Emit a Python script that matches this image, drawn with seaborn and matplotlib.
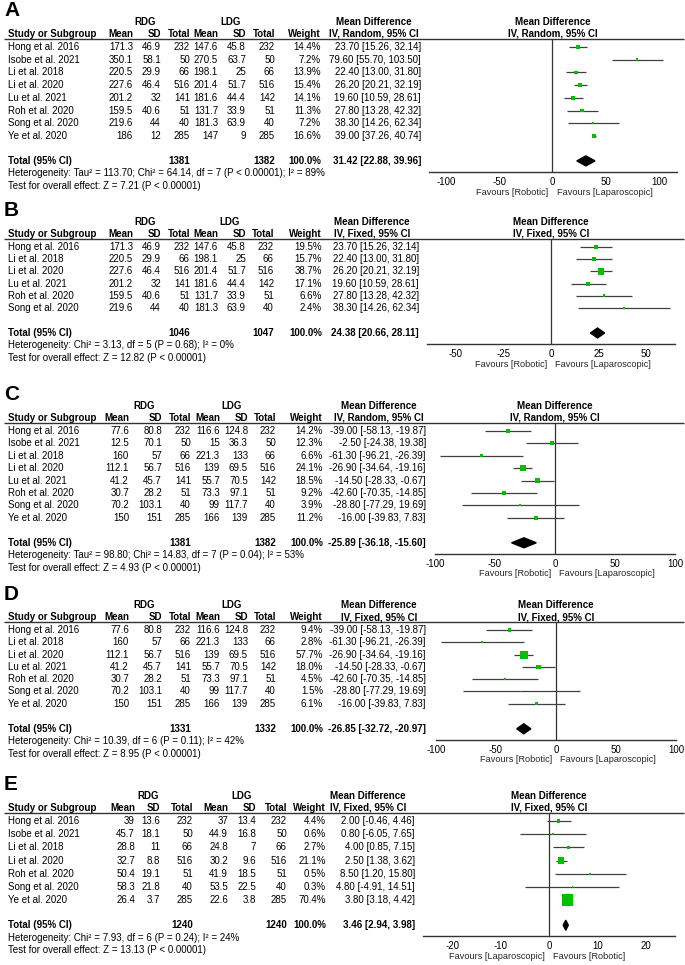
import matplotlib.pyplot as plt
import numpy as np
import pandas as pd
import seaborn as sns

# ---- data -------------------------------------------------------------
# operative time (panels A and B)
op_studies = ["Hong et al. 2016", "Isobe et al. 2021", "Li et al. 2018", "Li et al. 2020",
              "Lu et al. 2021", "Roh et al. 2020", "Song et al. 2020", "Ye et al. 2020"]
op_rdg_mean = [171.3, 350.1, 220.5, 227.6, 201.2, 159.5, 219.6, 186]
op_rdg_sd = [46.9, 58.1, 29.9, 46.4, 32, 40.6, 44, 12]
op_rdg_n = [232, 50, 66, 516, 141, 51, 40, 285]
op_ldg_mean = [147.6, 270.5, 198.1, 201.4, 181.6, 131.7, 181.3, 147]
op_ldg_sd = [45.8, 63.7, 25, 51.7, 44.4, 33.9, 63.9, 9]
op_ldg_n = [232, 50, 66, 516, 142, 51, 40, 285]
op_md = [23.70, 79.60, 22.40, 26.20, 19.60, 27.80, 38.30, 39.00]
op_lo = [15.26, 55.70, 13.00, 20.21, 10.59, 13.28, 14.26, 37.26]
op_hi = [32.14, 103.50, 31.80, 32.19, 28.61, 42.32, 62.34, 40.74]

a_studies = op_studies
a_weight = [14.4, 7.2, 13.9, 15.4, 14.1, 11.3, 7.2, 16.6]
a_total_n = [1381, 1382]
a_total_md = [31.42, 22.88, 39.96]
a_het = "Heterogeneity: Tau² = 113.70; Chi² = 64.14, df = 7 (P < 0.00001); I² = 89%"
a_test = "Test for overall effect: Z = 7.21 (P < 0.00001)"

b_studies = ["Hong et al. 2016", "Li et al. 2018", "Li et al. 2020", "Lu et al. 2021",
             "Roh et al. 2020", "Song et al. 2020"]
b_weight = [19.5, 15.7, 38.7, 17.1, 6.6, 2.4]
b_total_n = [1046, 1047]
b_total_md = [24.38, 20.66, 28.11]
b_het = "Heterogeneity: Chi² = 3.13, df = 5 (P = 0.68); I² = 0%"
b_test = "Test for overall effect: Z = 12.82 (P < 0.00001)"

# blood loss (panels C and D)
bl_studies = op_studies
bl_rdg_mean = [77.6, 12.5, 160, 112.1, 41.2, 30.7, 70.2, 150]
bl_rdg_sd = [80.8, 70.1, 57, 56.7, 45.7, 28.2, 103.1, 151]
bl_rdg_n = [232, 50, 66, 516, 141, 51, 40, 285]
bl_ldg_mean = [116.6, 15, 221.3, 139, 55.7, 73.3, 99, 166]
bl_ldg_sd = [124.8, 36.3, 133, 69.5, 70.5, 97.1, 117.7, 139]
bl_ldg_n = [232, 50, 66, 516, 142, 51, 40, 285]
bl_md = [-39.00, -2.50, -61.30, -26.90, -14.50, -42.60, -28.80, -16.00]
bl_lo = [-58.13, -24.38, -96.21, -34.64, -28.33, -70.35, -77.29, -39.83]
bl_hi = [-19.87, 19.38, -26.39, -19.16, -0.67, -14.85, 19.69, 7.83]

c_studies = bl_studies
c_weight = [14.2, 12.3, 6.6, 24.1, 18.5, 9.2, 3.9, 11.2]
c_total_n = [1381, 1382]
c_total_md = [-25.89, -36.18, -15.60]
c_het = "Heterogeneity: Tau² = 98.80; Chi² = 14.83, df = 7 (P = 0.04); I² = 53%"
c_test = "Test for overall effect: Z = 4.93 (P < 0.00001)"

d_studies = ["Hong et al. 2016", "Li et al. 2018", "Li et al. 2020", "Lu et al. 2021",
             "Roh et al. 2020", "Song et al. 2020", "Ye et al. 2020"]
d_weight = [9.4, 2.8, 57.7, 18.0, 4.5, 1.5, 6.1]
d_total_n = [1331, 1332]
d_total_md = [-26.85, -32.72, -20.97]
d_het = "Heterogeneity: Chi² = 10.39, df = 6 (P = 0.11); I² = 42%"
d_test = "Test for overall effect: Z = 8.95 (P < 0.00001)"

# retrieved lymph nodes (panel E)
e_studies = ["Hong et al. 2016", "Isobe et al. 2021", "Li et al. 2018", "Li et al. 2020",
             "Roh et al. 2020", "Song et al. 2020", "Ye et al. 2020"]
e_rdg_mean = [39, 45.7, 28.8, 32.7, 50.4, 58.3, 26.4]
e_rdg_sd = [13.6, 18.1, 11, 8.8, 19.1, 21.8, 3.7]
e_rdg_n = [232, 50, 66, 516, 51, 40, 285]
e_ldg_mean = [37, 44.9, 24.8, 30.2, 41.9, 53.5, 22.6]
e_ldg_sd = [13.4, 16.8, 7, 9.6, 18.5, 22.5, 3.8]
e_ldg_n = [232, 50, 66, 516, 51, 40, 285]
e_md = [2.00, 0.80, 4.00, 2.50, 8.50, 4.80, 3.80]
e_lo = [-0.46, -6.05, 0.85, 1.38, 1.20, -4.91, 3.18]
e_hi = [4.46, 7.65, 7.15, 3.62, 15.80, 14.51, 4.42]
e_weight = [4.4, 0.6, 2.7, 21.1, 0.5, 0.3, 70.4]
e_total_n = [1240, 1240]
e_total_md = [3.46, 2.94, 3.98]
e_het = "Heterogeneity: Chi² = 7.93, df = 6 (P = 0.24); I² = 24%"
e_test = "Test for overall effect: Z = 13.13 (P < 0.00001)"

fav_rob_lap = ["Favours [Robotic]", "Favours [Laparoscopic]"]
fav_lap_rob = ["Favours [Laparoscopic]", "Favours [Robotic]"]


def pick(values, names, subset):
    lookup = dict(zip(names, values))
    return [lookup[s] for s in subset]


# ---- drawing ----------------------------------------------------------
W, H = 685, 965
sns.set_theme(style="white")
plt.rcParams['font.family'] = ['Liberation Sans', 'DejaVu Sans']
plt.rcParams['axes.unicode_minus'] = False

fig = plt.figure(figsize=(W / 100, H / 100), dpi=100)
canvas = fig.add_axes([0, 0, 1, 1])
canvas.set_xlim(0, W)
canvas.set_ylim(H, 0)
canvas.axis('off')

FS = 7
GREEN = '#00c000'


def txt(x, y, s, ha='right', bold=False, size=FS):
    canvas.text(x, y, s, ha=ha, va='center', fontsize=size,
                fontweight='bold' if bold else 'normal', color='black')


def draw_panel(letter, studies, cols, weight, md, lo, hi, total_n, total_md,
               het, test, method, favours, lay):
    L, p = lay['line'], lay['pitch']
    cx = lay['cols']
    md_r = lay['md_r']
    row_y = L + 8 + p * np.arange(len(studies))
    tot_y = row_y[-1] + 25
    axis_y = tot_y + 11

    # panel letter + group headers
    txt(4, L - 28, letter, ha='left', bold=True, size=15)
    txt((cx[0] + cx[2]) / 2 - 16, L - 17, "RDG", ha='center', bold=True)
    txt((cx[3] + cx[5]) / 2 - 16, L - 17, "LDG", ha='center', bold=True)
    txt(md_r - 47, L - 17, "Mean Difference", ha='center', bold=True)
    txt(8, L - 5, "Study or Subgroup", ha='left', bold=True)
    for x, h in zip(cx, ["Mean", "SD", "Total", "Mean", "SD", "Total", "Weight"]):
        txt(x, L - 5, h, bold=True)
    txt(md_r - 47, L - 5, method, ha='center', bold=True)
    canvas.hlines(L, 4, 684, color='#333333', lw=1.0)

    # study rows
    for i, s in enumerate(studies):
        y = row_y[i]
        txt(8, y, s, ha='left')
        for x, col in zip(cx[:6], cols):
            txt(x, y, f"{col[i]:g}")
        txt(cx[6], y, f"{weight[i]:.1f}%")
        txt(md_r, y, f"{md[i]:.2f} [{lo[i]:.2f}, {hi[i]:.2f}]")

    # totals
    txt(8, tot_y, "Total (95% CI)", ha='left', bold=True)
    txt(cx[2], tot_y, f"{total_n[0]}", bold=True)
    txt(cx[5], tot_y, f"{total_n[1]}", bold=True)
    txt(cx[6], tot_y, "100.0%", bold=True)
    txt(md_r, tot_y, f"{total_md[0]:.2f} [{total_md[1]:.2f}, {total_md[2]:.2f}]", bold=True)
    txt(8, tot_y + 12.5, het, ha='left')
    txt(8, tot_y + 25, test, ha='left')

    # forest plot
    x0, x1 = lay['plot_px']
    ax = fig.add_axes([x0 / W, 1 - axis_y / H, (x1 - x0) / W, (axis_y - L) / H])
    ax.patch.set_alpha(0)
    ax.axvline(0, color='#333333', lw=0.9, zorder=1)
    ax.hlines(row_y, lo, hi, color='#404040', lw=0.9, zorder=2)
    df = pd.DataFrame({'md': md, 'y': row_y, 'w': weight})
    smin, smax = lay['sq_px']
    sns.scatterplot(data=df, x='md', y='y', size='w',
                    sizes=((smin * 0.72) ** 2, (smax * 0.72) ** 2),
                    marker='s', color=GREEN, edgecolor='none', linewidth=0,
                    legend=False, ax=ax, zorder=3)
    m, l, h = total_md
    ax.fill([l, m, h, m], [tot_y, tot_y - 5, tot_y, tot_y + 5], color='black', zorder=3)

    ax.set_xlim(lay['xlim'])
    ax.set_ylim(axis_y, L)
    ax.set_xlabel('')
    ax.set_ylabel('')
    ax.set_yticks([])
    ax.set_xticks(lay['ticks'])
    ax.set_xticklabels([f"{t:g}" for t in lay['ticks']])
    for side in ['top', 'left', 'right']:
        ax.spines[side].set_visible(False)
    ax.spines['bottom'].set_color('#333333')
    ax.spines['bottom'].set_linewidth(1.0)
    ax.tick_params(axis='x', direction='inout', length=5, width=1, pad=1,
                   labelsize=FS, colors='black')
    ax.tick_params(axis='x', color='#333333')

    ax.annotate(favours[0], xy=(0, 0), xycoords=('data', 'axes fraction'),
                xytext=(-3, -14.5), textcoords='offset points',
                ha='right', va='center', fontsize=6.6)
    ax.annotate(favours[1], xy=(0, 0), xycoords=('data', 'axes fraction'),
                xytext=(3, -14.5), textcoords='offset points',
                ha='left', va='center', fontsize=6.6)

    # forest headers
    xc = (x0 + x1) / 2
    txt(xc, L - 17, "Mean Difference", ha='center', bold=True)
    txt(xc, L - 5, method, ha='center', bold=True)


op_cols = [op_rdg_mean, op_rdg_sd, op_rdg_n, op_ldg_mean, op_ldg_sd, op_ldg_n]
bl_cols = [bl_rdg_mean, bl_rdg_sd, bl_rdg_n, bl_ldg_mean, bl_ldg_sd, bl_ldg_n]
e_cols = [e_rdg_mean, e_rdg_sd, e_rdg_n, e_ldg_mean, e_ldg_sd, e_ldg_n]

# A
draw_panel("A", a_studies, op_cols, a_weight, op_md, op_lo, op_hi,
           a_total_n, a_total_md, a_het, a_test, "IV, Random, 95% CI", fav_rob_lap,
           dict(line=39, pitch=12.7, cols=[133, 161, 190, 218, 246, 275, 321], md_r=421,
                plot_px=(429, 677), xlim=(-116, 117), ticks=[-100, -50, 0, 50, 100],
                sq_px=(2.5, 4.2)))

# B
b_cols = [pick(c, op_studies, b_studies) for c in op_cols]
draw_panel("B", b_studies, b_cols, b_weight,
           pick(op_md, op_studies, b_studies), pick(op_lo, op_studies, b_studies),
           pick(op_hi, op_studies, b_studies),
           b_total_n, b_total_md, b_het, b_test, "IV, Fixed, 95% CI", fav_rob_lap,
           dict(line=239, pitch=12.2, cols=[133, 161, 190, 218, 246, 274, 322], md_r=419,
                plot_px=(427, 675), xlim=(-65, 65), ticks=[-50, -25, 0, 25, 50],
                sq_px=(1.8, 6.2)))

# C
draw_panel("C", c_studies, bl_cols, c_weight, bl_md, bl_lo, bl_hi,
           c_total_n, c_total_md, c_het, c_test, "IV, Random, 95% CI", fav_rob_lap,
           dict(line=423, pitch=12.4, cols=[129, 162, 191, 220, 248, 276, 323], md_r=426,
                plot_px=(435, 675), xlim=(-100, 100), ticks=[-100, -50, 0, 50, 100],
                sq_px=(2.0, 5.6)))

# D
d_cols = [pick(c, bl_studies, d_studies) for c in bl_cols]
draw_panel("D", d_studies, d_cols, d_weight,
           pick(bl_md, bl_studies, d_studies), pick(bl_lo, bl_studies, d_studies),
           pick(bl_hi, bl_studies, d_studies),
           d_total_n, d_total_md, d_het, d_test, "IV, Fixed, 95% CI", fav_rob_lap,
           dict(line=622, pitch=12.3, cols=[129, 162, 191, 220, 248, 276, 323], md_r=426,
                plot_px=(436, 676), xlim=(-100, 100), ticks=[-100, -50, 0, 50, 100],
                sq_px=(1.7, 8.0)))

# E
draw_panel("E", e_studies, e_cols, e_weight, e_md, e_lo, e_hi,
           e_total_n, e_total_md, e_het, e_test, "IV, Fixed, 95% CI", fav_lap_rob,
           dict(line=813, pitch=13.2, cols=[135, 160, 193, 228, 256, 287, 326], md_r=415,
                plot_px=(423, 675), xlim=(-26, 26), ticks=[-20, -10, 0, 10, 20],
                sq_px=(1.5, 11.5)))

fig.savefig("out.png", dpi=100)
